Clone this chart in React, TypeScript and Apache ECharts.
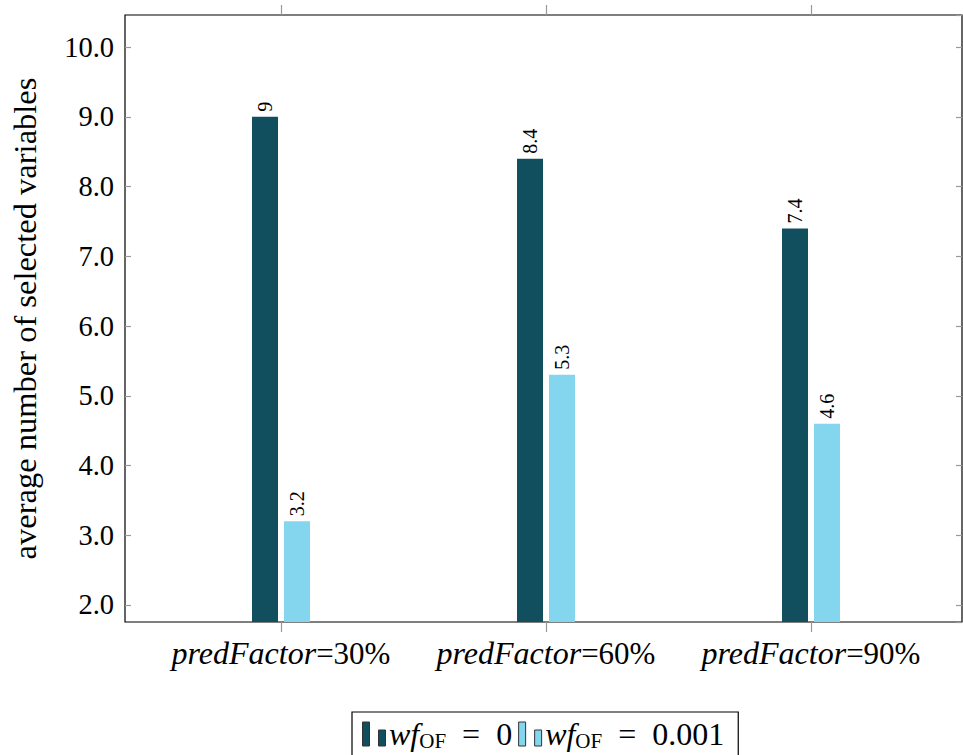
import React, { useEffect, useRef } from "react";
import * as echarts from "echarts";

const categories = ["30%", "60%", "90%"];
const seriesNames = ["wf0", "wf0001"];
const wf0Values = [9, 8.4, 7.4];
const wf0001Values = [3.2, 5.3, 4.6];
const wf0Labels = ["9", "8.4", "7.4"];
const wf0001Labels = ["3.2", "5.3", "4.6"];
const legendValues = ["0", "0.001"];
const yMin = 1.756;
const yMax = 10.46;

const DARK = "#124f5e";
const LIGHT = "#83d6ee";
const FONT = "'Liberation Serif', serif";

export default function App() {
  const ref = useRef<HTMLDivElement>(null);
  useEffect(() => {
    if (!ref.current) return;
    const chart = echarts.init(ref.current, null, { renderer: "svg" });
    const top = 15;
    const bottom = 133;
    const barLabel = (texts: string[]) => ({
      show: true,
      position: "top",
      distance: 5,
      rotate: 90,
      align: "left",
      verticalAlign: "middle",
      fontFamily: "serif",
      fontSize: 20,
      color: "#000",
      formatter: (p: any) => texts[p.dataIndex],
    });
    const legendRich = {
      i: { fontFamily: FONT, fontStyle: "italic", fontSize: 32, color: "#000" },
      s: { fontFamily: FONT, fontSize: 21, color: "#000", padding: [14, 0, 0, 0] },
      n: { fontFamily: FONT, fontSize: 32, color: "#000" },
    };
    chart.setOption({
      animation: false,
      textStyle: { fontFamily: FONT },
      grid: [
        {
          left: 122,
          right: 1,
          top,
          bottom,
          show: true,
          borderColor: "#000",
          borderWidth: 1.2,
          backgroundColor: "transparent",
        },
        { left: 148.5, right: 19.5, top, bottom },
      ],
      xAxis: [
        { type: "value", gridIndex: 0, show: false, min: 0, max: 1 },
        {
          type: "category",
          gridIndex: 1,
          data: categories,
          position: "bottom",
          axisLine: { show: false },
          axisTick: {
            show: true,
            alignWithLabel: true,
            length: 10,
            lineStyle: { color: "#999", width: 1.2 },
          },
          axisLabel: {
            margin: 15,
            fontFamily: FONT,
            formatter: (v: string) => `{i|predFactor}{n|=${v}}`,
            rich: {
              i: { fontFamily: FONT, fontStyle: "italic", fontSize: 32, color: "#000" },
              n: { fontFamily: FONT, fontSize: 31, color: "#000" },
            },
          },
        },
        {
          type: "category",
          gridIndex: 1,
          data: categories,
          position: "top",
          axisLine: { show: false },
          axisTick: {
            show: true,
            alignWithLabel: true,
            length: 10,
            lineStyle: { color: "#999", width: 1.2 },
          },
          axisLabel: { show: false },
        },
      ],
      yAxis: [
        {
          type: "value",
          gridIndex: 0,
          min: yMin,
          max: yMax,
          splitNumber: 9,
          position: "left",
          name: "average number of selected variables",
          nameLocation: "middle",
          nameGap: 84,
          nameTextStyle: { fontFamily: FONT, fontSize: 32.5, color: "#000" },
          axisLine: { show: false },
          splitLine: { show: false },
          axisTick: {
            show: true,
            inside: true,
            length: 6,
            lineStyle: { color: "#999", width: 1.2 },
          },
          axisLabel: {
            showMinLabel: false,
            showMaxLabel: false,
            margin: 11,
            fontFamily: FONT,
            fontSize: 28.5,
            color: "#000",
            formatter: (v: number) => v.toFixed(1),
          },
        },
        {
          type: "value",
          gridIndex: 0,
          min: yMin,
          max: yMax,
          splitNumber: 9,
          position: "right",
          axisLine: { show: false },
          splitLine: { show: false },
          axisTick: {
            show: true,
            inside: true,
            length: 6,
            lineStyle: { color: "#999", width: 1.2 },
          },
          axisLabel: { show: false },
        },
        {
          type: "value",
          gridIndex: 1,
          min: yMin,
          max: yMax,
          show: false,
        },
      ],
      legend: {
        left: 352,
        top: 712,
        orient: "horizontal",
        borderColor: "#000",
        borderWidth: 1.2,
        borderRadius: 0,
        padding: [6, 14, 14, 10],
        itemGap: 6,
        itemWidth: 24,
        itemHeight: 24,
        icon: "path://M0,0H7V24H0Z M16,8H23V24H16Z",
        itemStyle: { borderColor: "#333", borderWidth: 1 },
        formatter: (name: string) => {
          const idx = seriesNames.indexOf(name);
          return `{i|wf}{s|OF}{n|  =  ${legendValues[idx]}}`;
        },
        textStyle: { fontFamily: FONT, rich: legendRich, padding: [0, 0, 0, -2] },
      },
      series: [
        {
          name: seriesNames[0],
          type: "bar",
          xAxisIndex: 1,
          yAxisIndex: 2,
          data: wf0Values,
          barWidth: 26,
          barGap: "23%",
          itemStyle: { color: DARK },
          label: barLabel(wf0Labels),
        },
        {
          name: seriesNames[1],
          type: "bar",
          xAxisIndex: 1,
          yAxisIndex: 2,
          data: wf0001Values,
          barWidth: 26,
          barGap: "23%",
          itemStyle: { color: LIGHT },
          label: barLabel(wf0001Labels),
        },
      ],
    });
    return () => chart.dispose();
  }, []);
  return (
    <div
      ref={ref}
      style={{ position: "absolute", left: 0, top: 0, width: 963, height: 755 }}
    />
  );
}
